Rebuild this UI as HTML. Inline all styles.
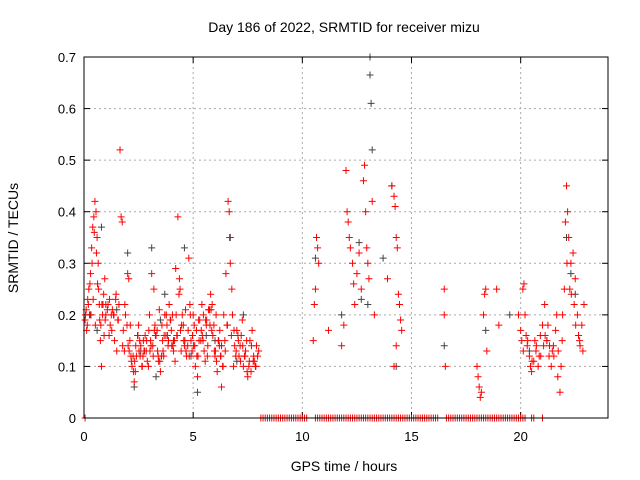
<!DOCTYPE html>
<html><head><meta charset="utf-8"><style>
body{margin:0;background:#fff;}
svg{display:block;font-family:"Liberation Sans",sans-serif;}
</style></head><body>
<svg id="chart" width="640" height="480" xmlns="http://www.w3.org/2000/svg">
<text x="344" y="32" font-size="14" text-anchor="middle">Day 186 of 2022, SRMTID for receiver mizu</text>
<text x="344" y="471" font-size="14" text-anchor="middle">GPS time / hours</text>
<text transform="translate(18,238) rotate(-90)" font-size="14" text-anchor="middle">SRMTID / TECUs</text>
<g id="grid"></g>
<g id="ticks"></g>
<g id="marks"></g>
<rect x="84" y="57" width="524" height="361" fill="none" stroke="#000" stroke-width="1"/>
</svg>
<script>
const xTicks=[0,5,10,15,20];
const yTicks=[0,0.1,0.2,0.3,0.4,0.5,0.6,0.7];
const yTickLabels=["0","0.1","0.2","0.3","0.4","0.5","0.6","0.7"];
const redT=[0.05,0.1,0.15,0.2,0.25,0.3,0.35,0.4,0.45,0.5,0.55,0.6,0.65,0.7,0.75,0.8,0.85,0.9,0.95,1.0,
0.12,0.22,0.32,0.42,0.52,0.62,0.72,0.82,0.92,
1.1,1.2,1.3,1.4,1.5,1.6,1.65,1.7,1.75,1.8,1.9,2.0,2.05,2.1,2.2,2.3,2.4,2.5,2.6,2.7,2.8,2.9,3.0,3.1,3.2,3.3,3.4,3.5,3.6,3.7,3.8,3.9,4.0,4.1,4.2,4.3,4.4,4.5,4.6,4.7,4.8,4.9,5.0,5.1,5.2,5.3,5.4,5.5,5.6,5.7,5.8,5.9,6.0,6.1,6.2,6.3,6.4,6.5,6.6,6.65,6.7,6.8,6.9,7.0,7.1,7.2,7.3,7.4,7.5,7.6,7.7,7.8,7.9,8.0,
1.15,1.35,1.55,1.85,2.15,2.35,2.55,2.75,2.95,3.15,3.35,3.55,3.75,3.95,4.15,4.35,4.55,4.75,4.95,5.15,5.35,5.55,5.75,5.95,6.15,6.35,6.55,6.75,6.95,7.15,7.35,7.55,7.75,7.95,
1.25,1.45,2.25,2.45,2.65,2.85,3.05,3.25,3.45,3.65,3.85,4.05,4.25,4.45,4.65,4.85,5.05,5.25,5.45,5.65,5.85,6.05,6.25,6.45,6.85,7.05,7.25,7.45,7.65,7.85,
0.07,0.17,0.27,0.37,0.47,0.57,0.67,0.77,0.87,0.97,1.07,1.17,1.27,1.37,1.47,1.57,1.77,1.87,1.97,2.07,2.17,2.27,2.37,2.47,2.57,2.67,2.77,2.87,2.97,3.07,3.17,3.27,3.37,3.47,3.57,3.67,3.77,3.87,3.97,4.07,4.17,4.27,4.37,4.47,4.57,4.67,4.77,4.87,4.97,5.07,5.17,5.27,5.37,5.47,5.57,5.67,5.77,5.87,5.97,6.07,6.17,6.27,6.37,6.47,6.57,6.67,6.77,6.87,6.97,7.07,7.17,7.27,7.37,7.47,7.57,7.67,7.77,7.87,
2.02,2.12,2.32,2.52,2.72,3.02,3.22,3.42,3.62,3.82,4.02,4.22,4.42,4.62,4.82,5.02,5.22,5.42,5.62,5.82,6.02,6.22,
10.5,10.55,10.6,10.65,10.7,10.75,11.2,11.8,11.9,12.0,12.05,12.1,12.15,12.2,12.3,12.35,12.4,12.5,12.6,12.7,12.8,12.85,12.9,12.95,13.0,13.05,13.2,13.3,13.9,14.1,14.2,14.25,14.3,14.35,14.4,14.45,14.5,14.55,14.3,14.2,
16.5,16.5,16.55,18.0,18.05,18.1,18.15,18.2,18.3,18.35,18.4,18.45,18.9,19.0,
19.9,20.0,20.05,20.1,20.15,20.2,20.3,20.4,20.5,20.6,20.7,20.8,20.9,21.0,21.1,21.2,21.3,21.4,21.5,21.6,21.7,21.8,21.9,22.0,22.05,22.1,22.15,22.2,22.3,22.4,22.5,22.6,22.7,22.8,22.9,
20.25,20.45,20.65,20.85,21.05,21.25,21.45,21.65,21.85,22.25,22.45,22.65,22.85,
20.12,20.32,20.52,20.72,20.92,21.12,21.32,21.52,21.72,21.92,22.12,22.32,22.52,22.72];
const redV=[0.19,0.21,0.18,0.22,0.2,0.28,0.33,0.37,0.39,0.42,0.4,0.35,0.3,0.22,0.15,0.1,0.2,0.24,0.27,0.2,
0.17,0.25,0.2,0.23,0.18,0.26,0.19,0.22,0.16,
0.22,0.18,0.21,0.15,0.13,0.22,0.52,0.39,0.38,0.17,0.2,0.28,0.27,0.15,0.1,0.07,0.12,0.18,0.14,0.12,0.16,0.11,0.2,0.28,0.25,0.16,0.12,0.09,0.15,0.2,0.18,0.22,0.17,0.13,0.29,0.39,0.25,0.2,0.14,0.12,0.31,0.15,0.2,0.1,0.08,0.19,0.22,0.13,0.18,0.21,0.24,0.16,0.12,0.09,0.14,0.06,0.2,0.28,0.42,0.4,0.3,0.2,0.14,0.17,0.12,0.16,0.1,0.13,0.08,0.15,0.17,0.11,0.14,0.13,
0.16,0.2,0.19,0.13,0.12,0.09,0.15,0.13,0.1,0.14,0.17,0.12,0.16,0.19,0.15,0.24,0.18,0.14,0.13,0.17,0.15,0.11,0.21,0.18,0.15,0.1,0.18,0.16,0.12,0.14,0.12,0.1,0.11,0.12,
0.2,0.23,0.12,0.16,0.1,0.13,0.15,0.18,0.21,0.12,0.14,0.2,0.16,0.13,0.21,0.22,0.18,0.19,0.15,0.12,0.17,0.2,0.12,0.15,0.1,0.16,0.19,0.15,0.09,0.1,
0.2,0.23,0.26,0.3,0.36,0.32,0.25,0.18,0.22,0.19,0.21,0.23,0.17,0.2,0.24,0.19,0.14,0.22,0.18,0.13,0.11,0.09,0.14,0.16,0.12,0.1,0.13,0.15,0.17,0.14,0.12,0.16,0.13,0.11,0.18,0.16,0.2,0.15,0.19,0.14,0.11,0.16,0.27,0.18,0.15,0.13,0.17,0.2,0.16,0.14,0.12,0.15,0.17,0.2,0.19,0.14,0.18,0.22,0.13,0.11,0.15,0.12,0.1,0.13,0.18,0.35,0.25,0.17,0.13,0.15,0.11,0.14,0.12,0.09,0.11,0.14,0.12,0.1,
0.14,0.18,0.11,0.13,0.15,0.13,0.17,0.11,0.13,0.16,0.14,0.2,0.17,0.15,0.12,0.14,0.12,0.16,0.19,0.21,0.13,0.17,
0.15,0.22,0.25,0.35,0.33,0.3,0.17,0.14,0.18,0.48,0.4,0.38,0.35,0.33,0.3,0.26,0.22,0.28,0.32,0.25,0.46,0.49,0.4,0.33,0.3,0.27,0.42,0.2,0.27,0.45,0.43,0.41,0.35,0.33,0.24,0.22,0.19,0.17,0.14,0.1,
0.25,0.2,0.1,0.1,0.08,0.06,0.04,0.05,0.2,0.24,0.25,0.13,0.25,0.18,
0.2,0.17,0.15,0.25,0.26,0.2,0.14,0.12,0.09,0.11,0.13,0.1,0.16,0.18,0.22,0.15,0.12,0.1,0.14,0.17,0.08,0.05,0.15,0.25,0.38,0.45,0.4,0.35,0.3,0.32,0.27,0.2,0.15,0.18,0.22,
0.16,0.1,0.15,0.12,0.14,0.18,0.13,0.2,0.1,0.25,0.22,0.16,0.13,
0.13,0.15,0.11,0.14,0.12,0.16,0.14,0.12,0.13,0.2,0.3,0.24,0.18,0.14];
const grayT=[0.3,0.8,1.5,2.0,2.3,3.1,3.3,3.7,4.6,5.2,6.0,6.7,7.3,10.6,11.8,12.6,12.7,13.1,13.1,13.15,13.2,13.0,13.7,14.1,14.3,16.5,18.4,19.5,22.1,22.3,22.5,
0.6,1.0,2.6,3.5,4.1,4.9,5.6,6.3,7.0,20.4,21.2];
const grayV=[0.2,0.37,0.21,0.32,0.06,0.33,0.08,0.24,0.33,0.05,0.15,0.35,0.2,0.31,0.2,0.34,0.23,0.7,0.665,0.61,0.52,0.22,0.31,0.45,0.1,0.14,0.17,0.2,0.35,0.28,0.24,
0.17,0.22,0.13,0.19,0.15,0.12,0.16,0.14,0.11,0.13,0.15];
const zeroT=[0.05,8.1,8.2,8.3,8.4,8.5,8.6,8.7,8.8,8.9,9.0,9.1,9.2,9.3,9.4,9.5,9.6,9.7,9.8,9.9,10.0,10.1,10.2,10.6,10.7,10.8,10.9,11.0,11.1,11.2,11.3,11.4,11.5,11.6,11.7,11.8,11.9,12.0,12.1,12.2,12.3,12.4,12.5,12.6,12.7,12.8,12.9,13.0,13.1,13.2,13.3,13.4,13.5,13.6,13.7,13.8,13.9,14.0,14.1,14.2,14.3,14.4,14.5,14.6,14.7,14.8,14.9,15.0,15.1,15.2,15.3,15.4,15.5,15.6,15.7,15.8,15.9,16.0,16.1,16.2,16.6,16.7,16.8,16.9,17.0,17.1,17.2,17.3,17.4,17.5,17.6,17.7,17.8,17.9,18.0,18.1,18.2,18.3,18.4,18.5,18.6,18.7,18.8,18.9,19.0,19.1,19.2,19.3,19.4,19.5,19.6,19.7,19.8,19.9,20.0,20.1,20.2,20.5,20.6,21.0];
const NS="http://www.w3.org/2000/svg";
const xS=t=>84+t*(524/24);
const yS=v=>418-v*(361/0.7);
const grid=document.getElementById('grid'),ticks=document.getElementById('ticks'),marks=document.getElementById('marks');
function mk(tag,attrs,parent){const e=document.createElementNS(NS,tag);for(const k in attrs)e.setAttribute(k,attrs[k]);parent.appendChild(e);return e;}
xTicks.forEach(t=>{const x=xS(t);
 const g=mk('line',{x1:x,x2:x,y1:57,y2:418,stroke:'#aaa','stroke-dasharray':'2,3'},grid);
 
 
 const l=mk('text',{x:x,y:441,'font-size':13,'text-anchor':'middle'},ticks);l.textContent=t;
 
 
 mk('line',{x1:x,x2:x,y1:418,y2:412,stroke:'#000'},ticks);mk('line',{x1:x,x2:x,y1:57,y2:63,stroke:'#000'},ticks);});
yTicks.forEach((v,i)=>{const y=yS(v);
 const g=mk('line',{x1:84,x2:608,y1:y,y2:y,stroke:'#aaa','stroke-dasharray':'2,3'},grid);
 
 
 const l=mk('text',{x:76,y:y+5,'font-size':13,'text-anchor':'end'},ticks);l.textContent=yTickLabels[i];
 
 
 mk('line',{x1:84,x2:90,y1:y,y2:y,stroke:'#000'},ticks);mk('line',{x1:608,x2:602,y1:y,y2:y,stroke:'#000'},ticks);});
function plus(t,v,col,name){const x=xS(t),y=yS(v);
 const p=mk('path',{d:`M${x-3.5},${y}H${x+3.5}M${x},${y-3.5}V${y+3.5}`,stroke:col,'stroke-width':1},marks);
 
 }
grayT.forEach((t,i)=>plus(t,grayV[i],'#444','gray-point'));
redT.forEach((t,i)=>plus(t,redV[i],'#ff0000','red-point'));
zeroT.forEach(t=>plus(t,0,'#ff0000','zero-point'));
</script>
</body></html>
